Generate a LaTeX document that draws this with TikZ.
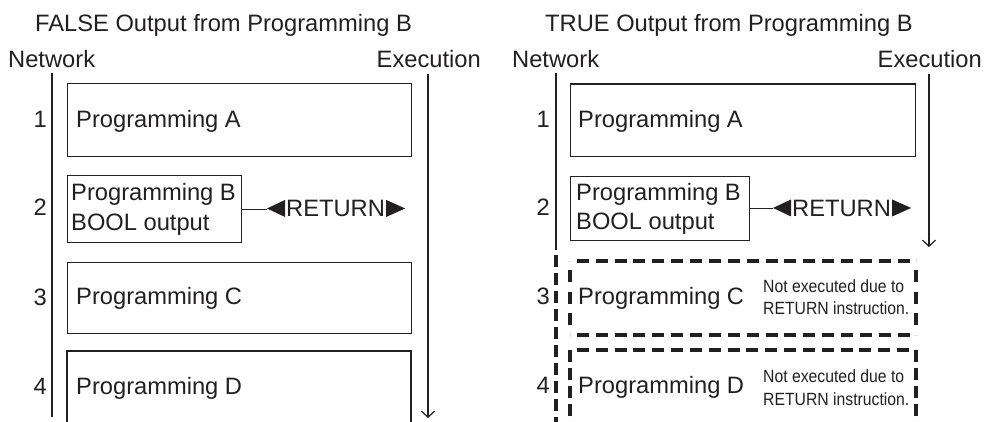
\documentclass[tikz,border=0pt]{standalone}
\usepackage{fontspec}
\setmainfont{Liberation Sans}
\newfontfamily\notefont[FakeStretch=0.89]{Liberation Sans}
\usetikzlibrary{arrows.meta,decorations}
\definecolor{ink}{HTML}{231F20}
\newcommand\dgmfont{\fontsize{23.7}{30}\selectfont}
\newcommand\dgmnotefont{\notefont\fontsize{17.7}{21}\selectfont}
\tikzset{
  txt/.style={inner sep=0pt, text=ink, font=\dgmfont, anchor=base west},
  numlbl/.style={txt, anchor=base east},
  note/.style={inner sep=0pt, text=ink, font=\dgmnotefont, anchor=base west},
  box/.style={draw=ink, line width=1.2pt, inner sep=0pt, anchor=north west},
  dbox/.style={inner sep=0pt, anchor=north west},
  rail/.style={draw=ink, line width=1.2pt},
  drail/.style={draw=ink, line width=4pt, dash pattern=on 12pt off 6pt},
  dside/.style={draw=ink, line width=4pt, dash pattern=on 12pt off 6pt, dash expand off},
  execarrow/.style={rail, -{Straight Barb[length=6pt,width=13pt,line width=1.2pt]}},
  tri/.style={fill=ink}
}
\begin{document}
\begin{tikzpicture}[x=1pt,y=-1pt]
\useasboundingbox (0,0) rectangle (985,421);

% ---------------- Left panel: FALSE ----------------
\node[txt] (titleL) at (35,31) {FALSE Output from Programming B};
\node[txt] (netL) at (8,67) {Network};
\node[txt, anchor=base east] (exeL) at (481,67) {Execution};

\coordinate (NLtop) at (52,73);
\coordinate (NLbot) at (52,417);
\draw[rail] (NLtop) -- (NLbot);
\coordinate (ELtop) at (428,74);
\coordinate (ELbot) at (428,418);
\draw[execarrow] (ELtop) -- (ELbot);

\node[box, minimum width=344pt, minimum height=73pt] (A1) at (67,83) {};
\node[txt] (A1t) at (76,127) {Programming A};
\node[numlbl] (n1L) at (47,127) {1};

\node[box, minimum width=174pt, minimum height=67pt] (B1) at (67,175) {};
\node[txt] (B1t) at (71,200) {Programming B};
\node[txt] (B1u) at (71,230) {BOOL output};
\node[numlbl] (n2L) at (47,215) {2};

\node[txt] (R1) at (286,216.5) {RETURN};
\coordinate (R1tip) at ([xshift=-19pt]R1.west);
\fill[tri] ([shift={(-1,-8.5)}]R1.west) -- ([shift={(-1,8.5)}]R1.west) -- (R1tip) -- cycle;
\fill[tri] ([shift={(1,-8.5)}]R1.east) -- ([shift={(1,8.5)}]R1.east) -- ([shift={(20,0)}]R1.east) -- cycle;
\draw[rail] (B1.east) -- (B1.east -| R1tip);

\node[box, minimum width=344pt, minimum height=71pt] (C1) at (67,262) {};
\node[txt] (C1t) at (76,304) {Programming C};
\node[numlbl] (n3L) at (47,305) {3};

\coordinate (D1a) at (67,425);
\coordinate (D1b) at (411,425);
\draw[rail] (D1a) |- (411,351) -- (D1b);
\node[txt] (D1t) at (76,394) {Programming D};
\node[numlbl] (n4L) at (47,394) {4};

% ---------------- Right panel: TRUE ----------------
\node[txt] (titleR) at (545,31) {TRUE Output from Programming B};
\node[txt] (netR) at (512,67) {Network};
\node[txt, anchor=base east] (exeR) at (982,67) {Execution};

\coordinate (NRtop) at (556,73);
\coordinate (NRmid) at (556,250);
\coordinate (NRdash) at (556,255);
\coordinate (NRbot) at (556,425);
\draw[rail] (NRtop) -- (NRmid);
\draw[drail] (NRdash) -- (NRbot);
\coordinate (ERtop) at (929,74);
\coordinate (ERbot) at (929,247);
\draw[execarrow] (ERtop) -- (ERbot);

\node[box, minimum width=345pt, minimum height=72.5pt] (A2) at (570,83.3) {};
\node[txt] (A2t) at (578,127) {Programming A};
\node[numlbl] (n1R) at (550,127) {1};

\node[box, minimum width=179pt, minimum height=64pt] (B2) at (570,176) {};
\node[txt] (B2t) at (576,200) {Programming B};
\node[txt] (B2u) at (576,229) {BOOL output};
\node[numlbl] (n2R) at (550,215) {2};

\node[txt] (R2) at (792,216) {RETURN};
\coordinate (R2tip) at ([xshift=-19pt]R2.west);
\fill[tri] ([shift={(-1,-8.5)}]R2.west) -- ([shift={(-1,8.5)}]R2.west) -- (R2tip) -- cycle;
\fill[tri] ([shift={(1,-8.5)}]R2.east) -- ([shift={(1,8.5)}]R2.east) -- ([shift={(20,0)}]R2.east) -- cycle;
\draw[rail] (B2.east) -- (B2.east -| R2tip);

\node[dbox, minimum width=346pt, minimum height=74pt] (C2) at (570,260.5) {};
\draw[dside] (C2.north west) -- (C2.north east);
\draw[dside] (C2.north east) -- (C2.south east);
\draw[dside] (C2.south east) -- (C2.south west);
\draw[dside] (C2.south west) -- (C2.north west);
\node[txt] (C2t) at (578,304) {Programming C};
\node[note] (C2n1) at (763,292.7) {Not executed due to};
\node[note] (C2n2) at (763,314) {RETURN instruction.};
\node[numlbl] (n3R) at (550,304) {3};

\coordinate (D2nw) at (570,349.5);
\coordinate (D2ne) at (916,349.5);
\coordinate (D2a) at (570,425);
\coordinate (D2b) at (916,425);
\draw[dside] (D2nw) -- (D2ne);
\draw[drail] (D2nw) -- (D2a);
\draw[drail] (D2ne) -- (D2b);
\node[txt] (D2t) at (578,393) {Programming D};
\node[note] (D2n1) at (763,382.7) {Not executed due to};
\node[note] (D2n2) at (763,405) {RETURN instruction.};
\node[numlbl] (n4R) at (550,393) {4};
\end{tikzpicture}
\end{document}
